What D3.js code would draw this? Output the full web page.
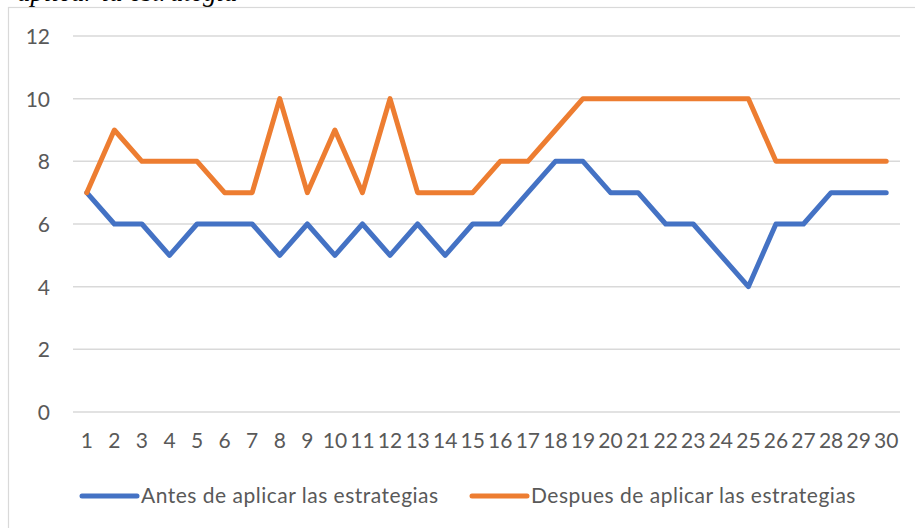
<!DOCTYPE html>
<html>
<head>
<meta charset="utf-8">
<style>
  body { margin: 0; background: #fff; }
  .grid line { stroke: #d9d9d9; stroke-width: 1.5px; }
  .axis text { font-family: Lato, "Open Sans", sans-serif; font-size: 21px; fill: #595959; }
  .legend text { font-family: Lato, "Open Sans", sans-serif; font-size: 21px; fill: #595959; letter-spacing: 0.5px; }
  .series { fill: none; stroke-width: 5px; stroke-linejoin: round; stroke-linecap: round; }
</style>
</head>
<body>
<svg id="chart"></svg>
<script src="https://cdn.jsdelivr.net/npm/d3@7"></script>
<script>
  var categories = d3.range(1, 31).map(String);
  var antes = [7, 6, 6, 5, 6, 6, 6, 5, 6, 5, 6, 5, 6, 5, 6, 6, 7, 8, 8, 7, 7, 6, 6, 5, 4, 6, 6, 7, 7, 7];
  var despues = [7, 9, 8, 8, 8, 7, 7, 10, 7, 9, 7, 10, 7, 7, 7, 8, 8, 9, 10, 10, 10, 10, 10, 10, 10, 8, 8, 8, 8, 8];
  var yTicks = [0, 2, 4, 6, 8, 10, 12];
  var seriesNames = ['Antes de aplicar las estrategias', 'Despues de aplicar las estrategias'];
  var colors = ['#4472c4', '#ed7d31'];

  var width = 915, height = 528;
  var svg = d3.select('#chart').attr('width', width).attr('height', height);

  // caption cut off at the top of the picture
  svg.append('text')
    .attr('x', 17).attr('y', 1)
    .style('font-family', '"Liberation Serif", serif')
    .style('font-style', 'italic')
    .style('font-size', '27px')
    .style('fill', '#000')
    .text('aplicar la estrategia');

  // chart frame
  svg.append('rect')
    .attr('x', 8.5).attr('y', 7.5)
    .attr('width', 920).attr('height', 540)
    .attr('fill', 'none').attr('stroke', '#d9d9d9').attr('stroke-width', 1.2);

  var plotL = 73, plotR = 900, plotT = 36, plotB = 412;
  var x = d3.scaleBand().domain(categories).range([plotL, plotR]);
  var y = d3.scaleLinear().domain([0, 12]).range([plotB, plotT]);

  svg.append('g').attr('class', 'grid')
    .selectAll('line').data(yTicks).join('line')
    .attr('x1', plotL).attr('x2', plotR)
    .attr('y1', function(d) { return y(d); })
    .attr('y2', function(d) { return y(d); });

  var yAxis = svg.append('g').attr('class', 'axis')
    .attr('transform', 'translate(' + (plotL - 23) + ',0)')
    .call(d3.axisLeft(y).tickValues(yTicks).tickSize(0).tickPadding(0));
  yAxis.select('.domain').remove();
  yAxis.selectAll('text').attr('dy', '0.35em');

  var xAxis = svg.append('g').attr('class', 'axis')
    .attr('transform', 'translate(0,' + (plotB + 21) + ')')
    .call(d3.axisBottom(x).tickSize(0).tickPadding(0));
  xAxis.select('.domain').remove();
  xAxis.selectAll('text').attr('dy', '0.35em').attr('y', 8);

  var line = d3.line()
    .x(function(d, i) { return x(categories[i]) + x.bandwidth() / 2; })
    .y(function(d) { return y(d); });

  [antes, despues].forEach(function(vals, k) {
    svg.append('path').datum(vals)
      .attr('class', 'series')
      .attr('stroke', colors[k])
      .attr('d', line);
  });

  // legend
  var legendX = [82, 472];
  var lg = svg.append('g').attr('class', 'legend');
  seriesNames.forEach(function(name, k) {
    lg.append('line')
      .attr('x1', legendX[k]).attr('x2', legendX[k] + 55)
      .attr('y1', 496).attr('y2', 496)
      .attr('stroke', colors[k]).attr('stroke-width', 5).attr('stroke-linecap', 'round');
    lg.append('text')
      .attr('x', legendX[k] + 59).attr('y', 496).attr('dy', '0.35em')
      .text(name);
  });
</script>
</body>
</html>
